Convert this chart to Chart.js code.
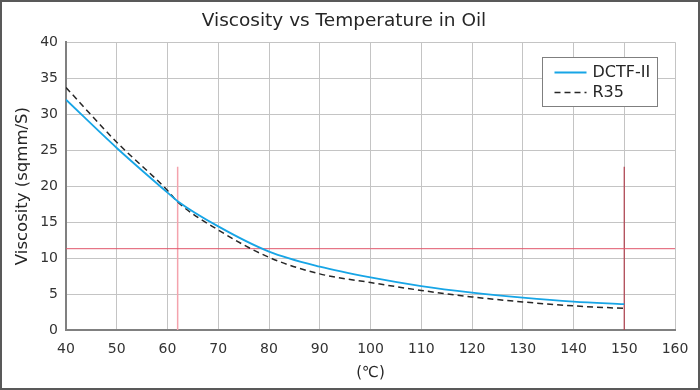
<!DOCTYPE html>
<html>
<head>
<meta charset="utf-8">
<script src="https://cdn.jsdelivr.net/npm/chart.js@4"></script>
<style>
  html, body { margin: 0; padding: 0; background: #fff; }
  #wrap { width: 700px; height: 390px; }
</style>
</head>
<body>
<div id="wrap"><canvas id="myChart" width="700" height="390"></canvas></div>
<script>
// temperatures (deg C)
const temps = [40, 50, 60, 62, 70, 80, 90, 100, 110, 120, 130, 140, 150];
const dctfValues = [32.0, 25.3, 19.1, 17.9, 14.4, 10.9, 8.8, 7.3, 6.1, 5.2, 4.5, 3.95, 3.6];
const r35Values = [33.7, 26.1, 19.4, 17.8, 13.9, 10.1, 7.8, 6.6, 5.5, 4.6, 3.9, 3.35, 3.0];

// reference markers
const refLevel = 11.3;
const refTempLow = 62;
const refTempHigh = 150;
const refTop = 22.7;

const xTicks = [40, 50, 60, 70, 80, 90, 100, 110, 120, 130, 140, 150, 160];
const yTicks = [0, 5, 10, 15, 20, 25, 30, 35, 40];

const fontFamily = "'DejaVu Sans', sans-serif";

const toPoints = (xs, ys) => xs.map((x, i) => ({ x: x, y: ys[i] }));

const frameAndLegend = {
    id: 'frameAndLegend',
    beforeDraw(chart) {
        const ctx = chart.ctx;
        ctx.save();
        ctx.fillStyle = '#fff';
        ctx.fillRect(0, 0, chart.width, chart.height);
        ctx.restore();
    },
    afterDraw(chart) {
        const ctx = chart.ctx;
        ctx.save();
        // outer frame
        ctx.strokeStyle = '#595959';
        ctx.lineWidth = 2;
        ctx.strokeRect(1, 1, chart.width - 2, chart.height - 2);

        // legend box
        const bx = 542.5, by = 57.5, bw = 115, bh = 49;
        ctx.fillStyle = '#fff';
        ctx.fillRect(bx, by, bw, bh);
        ctx.strokeStyle = '#7f7f7f';
        ctx.lineWidth = 1;
        ctx.strokeRect(bx, by, bw, bh);

        const items = chart.data.datasets
            .filter(d => d.legendRank)
            .sort((a, b) => a.legendRank - b.legendRank);
        ctx.font = '16px ' + fontFamily;
        ctx.textBaseline = 'middle';
        items.forEach((ds, i) => {
            const y = by + 15 + i * 20;
            ctx.beginPath();
            ctx.strokeStyle = ds.borderColor;
            ctx.lineWidth = ds.borderWidth;
            ctx.setLineDash(ds.borderDash || []);
            ctx.moveTo(bx + 12, y);
            ctx.lineTo(bx + 44, y);
            ctx.stroke();
            ctx.setLineDash([]);
            ctx.fillStyle = '#262626';
            ctx.fillText(ds.label, bx + 50, y);
        });
        ctx.restore();
    }
};

const config = {
    type: 'line',
    data: {
        datasets: [
            {
                label: 'ref level',
                data: [{ x: 40, y: refLevel }, { x: 160, y: refLevel }],
                borderColor: '#e0566a',
                borderWidth: 1,
                pointRadius: 0,
                order: 3
            },
            {
                label: 'ref low',
                data: [{ x: refTempLow, y: 0 }, { x: refTempLow, y: refTop }],
                borderColor: '#f4a3ad',
                borderWidth: 1.5,
                pointRadius: 0,
                order: 3
            },
            {
                label: 'ref high',
                data: [{ x: refTempHigh, y: 0 }, { x: refTempHigh, y: refTop }],
                borderColor: '#b0404e',
                borderWidth: 1.2,
                pointRadius: 0,
                order: 3
            },
            {
                label: 'R35',
                legendRank: 2,
                data: toPoints(temps, r35Values),
                borderColor: '#262626',
                borderWidth: 1.5,
                borderDash: [6, 4],
                pointRadius: 0,
                cubicInterpolationMode: 'monotone',
                order: 2
            },
            {
                label: 'DCTF-II',
                legendRank: 1,
                data: toPoints(temps, dctfValues),
                borderColor: '#17a5e6',
                borderWidth: 1.8,
                pointRadius: 0,
                cubicInterpolationMode: 'monotone',
                order: 1
            }
        ]
    },
    options: {
        responsive: false,
        animation: false,
        layout: { padding: { top: 0, right: 25, bottom: 0, left: 13 } },
        plugins: {
            legend: { display: false },
            tooltip: { enabled: false },
            title: {
                display: true,
                text: 'Viscosity vs Temperature in Oil',
                color: '#262626',
                font: { family: fontFamily, size: 18.5, weight: 'normal' },
                padding: { top: 10, bottom: 10 }
            }
        },
        scales: {
            x: {
                type: 'linear',
                min: 40,
                max: 160,
                afterBuildTicks: s => { s.ticks = xTicks.map(v => ({ value: v })); },
                ticks: {
                    color: '#333',
                    font: { family: fontFamily, size: 14 },
                    maxRotation: 0,
                    padding: 11
                },
                grid: { color: '#c4c4c4', lineWidth: 1, drawTicks: false },
                border: { color: '#808080', width: 2 },
                title: {
                    display: true,
                    text: '(℃)',
                    color: '#262626',
                    font: { family: fontFamily, size: 15 },
                    padding: { top: 2, bottom: 8 }
                },
                afterFit: s => { s.height = 60; }
            },
            y: {
                min: 0,
                max: 40,
                afterBuildTicks: s => { s.ticks = yTicks.map(v => ({ value: v })); },
                ticks: {
                    color: '#333',
                    font: { family: fontFamily, size: 14 },
                    padding: 8
                },
                grid: { color: '#c4c4c4', lineWidth: 1, drawTicks: false },
                border: { color: '#808080', width: 2 },
                title: {
                    display: true,
                    text: 'Viscosity (sqmm/S)',
                    color: '#262626',
                    font: { family: fontFamily, size: 16.5 },
                    padding: { top: 0, bottom: 2 }
                },
                afterFit: s => { s.width = 53; }
            }
        }
    },
    plugins: [frameAndLegend]
};

const ctx = document.getElementById('myChart').getContext('2d');
new Chart(ctx, config);
</script>
</body>
</html>
